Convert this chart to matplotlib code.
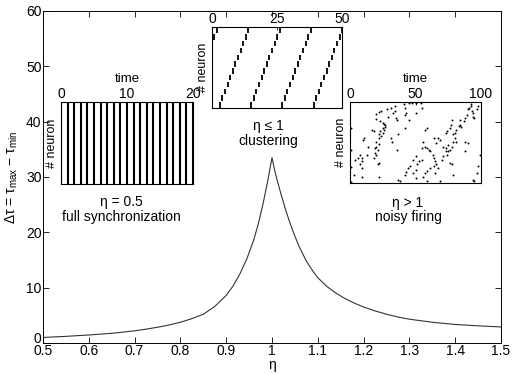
import matplotlib
matplotlib.use("Agg")
import matplotlib.pyplot as plt
import matplotlib.transforms as mtransforms

plt.rcParams['font.family'] = ['Liberation Sans', 'DejaVu Sans']
plt.rcParams['mathtext.fontset'] = 'custom'
plt.rcParams['mathtext.rm'] = 'Liberation Sans'
plt.rcParams['mathtext.it'] = 'Liberation Sans'

# ---------------- data ----------------
eta = [0.5, 0.55, 0.6, 0.65, 0.7, 0.725, 0.75, 0.775, 0.8, 0.825, 0.85, 0.875,
       0.9, 0.915, 0.93, 0.945, 0.96, 0.97, 0.98, 0.99, 1.0,
       1.005, 1.01, 1.02, 1.03, 1.04, 1.05, 1.06, 1.075, 1.09, 1.1, 1.12, 1.14,
       1.16, 1.18, 1.2, 1.225, 1.25, 1.275, 1.3, 1.35, 1.4, 1.45, 1.5]
dtau = [1.0, 1.2, 1.45, 1.75, 2.2, 2.5, 2.85, 3.25, 3.75, 4.4, 5.2, 6.6,
        8.6, 10.3, 12.5, 15.2, 18.6, 21.5, 25.0, 29.0, 33.5,
        31.5, 29.8, 26.8, 24.0, 21.5, 19.3, 17.3, 14.8, 12.9, 11.8, 10.2, 9.0,
        8.0, 7.2, 6.5, 5.8, 5.2, 4.7, 4.3, 3.75, 3.35, 3.1, 2.9]
x_ticks = [0.5, 0.6, 0.7, 0.8, 0.9, 1.0, 1.1, 1.2, 1.3, 1.4, 1.5]
x_ticklabels = ['0.5', '0.6', '0.7', '0.8', '0.9', '1', '1.1', '1.2', '1.3', '1.4', '1.5']
y_ticks = [0, 10, 20, 30, 40, 50, 60]

# inset 1: full synchronization, all neurons fire together
sync_times = [0, 1, 2, 3, 4, 5, 6, 7, 8, 9, 10, 11, 12, 13, 14, 15, 16, 17, 18, 19, 20]

# inset 2: clustering, spike time of neuron j (0..11) in each wave
cluster_waves = [
    [-9.1, -8.1, -7.1, -6.1, -5.1, -4.1, -3.1, -2.1, -1.1, -0.1, 0.9, 1.9],
    [3.0, 4.0, 5.0, 6.0, 7.0, 8.0, 9.0, 10.0, 11.0, 12.0, 13.0, 14.0],
    [15.1, 16.1, 17.1, 18.1, 19.1, 20.1, 21.1, 22.1, 23.1, 24.1, 25.1, 26.1],
    [27.0, 28.0, 29.0, 30.0, 31.0, 32.0, 33.0, 34.0, 35.0, 36.0, 37.0, 38.0],
    [39.1, 40.1, 41.1, 42.1, 43.1, 44.1, 45.1, 46.1, 47.1, 48.1, 49.1, 50.0],
]

# inset 3: noisy firing, (time, neuron) of each spike
noisy_t = [28, 31, 34, 34, 33, 29, 35, 36, 20, 22, 24, 20, 23, 25, 26, 27, 27, 25, 26, 23,
           25, 22, 24, 22, 20, 22, 20, 19, 21, 19, 20, 18, 13, 14, 11, 10, 8, 9, 9, 8,
           9, 6, 4, 1, 3, 9, 22, 22, 21, 17, 18, 42, 41, 43, 45, 47, 50, 54, 55, 50,
           42, 45, 42, 37, 1, 31, 32, 36, 37, 38, 56, 55, 57, 59, 60, 61, 63, 64, 65, 66,
           64, 61, 59, 57, 56, 55, 53, 50, 48, 51, 50, 48, 46, 44, 43, 42, 50, 59, 57, 59,
           64, 66, 67, 69, 71, 73, 75, 73, 74, 71, 70, 76, 78, 79, 65, 67, 69, 73, 74, 76,
           77, 78, 79, 80, 81, 83, 84, 85, 80, 79, 78, 76, 75, 81, 88, 90, 84, 87, 88, 89,
           90, 91, 92, 93, 94, 95, 94, 97, 98, 92, 98, 97, 95, 94, 99, 88, 1, 0.5]
noisy_n = [91, 92, 95, 89, 86, 82, 80, 78, 85, 88, 89, 79, 76, 74, 73, 71, 69, 68, 66, 64,
           62, 60, 58, 56, 51, 48, 45, 43, 41, 37, 35, 31, 35, 45, 56, 53, 35, 31, 27, 23,
           19, 31, 29, 41, 10, 7, 8, 25, 23, 66, 64, 93, 97, 86, 99, 99, 99, 99, 93, 86,
           84, 78, 68, 60, 68, 55, 51, 41, 4, 3, 51, 43, 45, 43, 41, 39, 35, 31, 27, 23,
           21, 19, 15, 12, 8, 29, 27, 33, 29, 23, 16, 12, 21, 19, 14, 10, 6, 2, 66, 68,
           56, 49, 56, 53, 45, 43, 47, 39, 35, 33, 29, 25, 23, 10, 12, 19, 2, 62, 64, 68,
           72, 78, 60, 62, 66, 70, 72, 69, 56, 51, 45, 41, 39, 51, 51, 49, 78, 77, 80, 84,
           91, 93, 95, 89, 82, 80, 86, 91, 95, 97, 21, 12, 2, 4, 35, 39, 20, 1]

W, H = 513, 374
fig = plt.figure(figsize=(W / 100, H / 100), dpi=100)

def frac(l, t, r, b):
    return [l / W, 1 - b / H, (r - l) / W, (b - t) / H]

# ---------------- main axes ----------------
ax = fig.add_axes(frac(43, 11, 501, 343))
ax.plot(eta, dtau, color='#333333', lw=0.8)
ax.set_xlim(0.5, 1.5)
ax.set_ylim(0, 60)
ax.set_xticks(x_ticks)
ax.set_xticklabels(x_ticklabels)
ax.set_yticks(y_ticks)
ax.tick_params(direction='in', top=True, right=True, length=4, width=0.6,
               labelsize=10, pad=1)
for s in ax.spines.values():
    s.set_linewidth(0.7)
ax.set_xlabel('η', fontsize=10, labelpad=0)
ax.set_ylabel(r'$\Delta\tau$ = $\tau_{\rm max}$ $-$ $\tau_{\rm min}$', fontsize=10, labelpad=4)
# lift the "0" y label slightly so it clears the "0.5" x label (as in the original)
ylab0 = ax.get_yticklabels()[0]
ylab0.set_transform(ylab0.get_transform() +
                    mtransforms.ScaledTranslation(0, 4 / 72, fig.dpi_scale_trans))

def style_inset(a, xlim, xticks):
    a.set_xlim(*xlim)
    a.set_xticks(xticks)
    a.set_yticks([])
    a.xaxis.tick_top()
    a.tick_params(axis='x', direction='in', length=2, width=0.6, labelsize=10, pad=1)
    for s in a.spines.values():
        s.set_linewidth(0.8)
    a.set_ylabel('# neuron', fontsize=9, labelpad=2)

# ---------------- inset 1 ----------------
a1 = fig.add_axes(frac(61, 102, 193, 184))
a1.vlines(sync_times, 0, 1, color='black', lw=1.5)
a1.set_ylim(0, 1)
style_inset(a1, (0, 20), [0, 10, 20])
a1.xaxis.set_label_position('top')
a1.set_xlabel('time', fontsize=9.5, labelpad=3)
fig.text(121 / W, 1 - 202 / H, 'η = 0.5', ha='center', va='center', fontsize=10)
fig.text(121 / W, 1 - 217 / H, 'full synchronization', ha='center', va='center', fontsize=10)

# ---------------- inset 2 ----------------
a2 = fig.add_axes(frac(212, 27, 342, 108))
for wave in cluster_waves:
    for j, t in enumerate(wave):
        a2.vlines(t, j + 0.1, j + 0.9, color='black', lw=1.3)
a2.set_ylim(0.05, 11.95)
style_inset(a2, (0, 50), [0, 25, 50])
fig.text(268 / W, 1 - 126 / H, 'η ≤ 1', ha='center', va='center', fontsize=10)
fig.text(268 / W, 1 - 141 / H, 'clustering', ha='center', va='center', fontsize=10)

# ---------------- inset 3 ----------------
a3 = fig.add_axes(frac(350, 102, 481, 183))
a3.scatter(noisy_t, noisy_n, s=2.0, color='black', linewidths=0)
a3.set_ylim(0, 100)
style_inset(a3, (0, 100), [0, 50, 100])
a3.xaxis.set_label_position('top')
a3.set_xlabel('time', fontsize=9.5, labelpad=3)
fig.text(408 / W, 1 - 203 / H, 'η > 1', ha='center', va='center', fontsize=10)
fig.text(408 / W, 1 - 217 / H, 'noisy firing', ha='center', va='center', fontsize=10)

fig.savefig('out.png', dpi=100)
